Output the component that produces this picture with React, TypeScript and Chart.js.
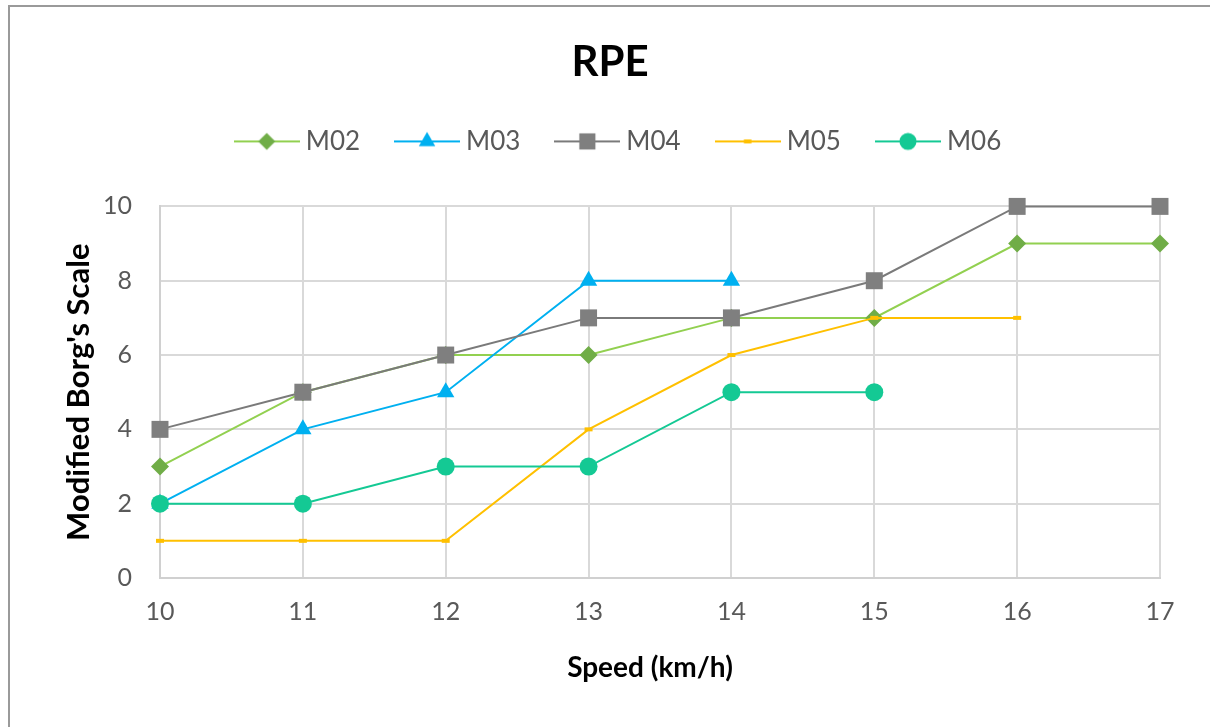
import React, { useEffect, useRef } from "react";
import { Chart, registerables } from "chart.js";

Chart.register(...registerables);

const speeds = ["10", "11", "12", "13", "14", "15", "16", "17"];
const seriesNames = ["M02", "M03", "M04", "M05", "M06"];
const m02 = [3, 5, 6, 6, 7, 7, 9, 9];
const m03 = [2, 4, 5, 8, 8, null, null, null];
const m04 = [4, 5, 6, 7, 7, 8, 10, 10];
const m05 = [1, 1, 1, 4, 6, 7, 7, null];
const m06 = [2, 2, 3, 3, 5, 5, null, null];
const yTicks = [0, 2, 4, 6, 8, 10];

const lineColors = ["#92D050", "#00B0F0", "#7A7A7A", "#FFC000", "#14C994"];
const markerColors = ["#70AD47", "#00B0F0", "#7F7F7F", "#FFC000", "#14C994"];
const markerStyles = ["rectRot", "triangle", "rect", "line", "circle"];
const markerRadii = [9, 10, 12, 4, 9];

function drawMarker(ctx: CanvasRenderingContext2D, style: string, x: number, y: number, r: number, color: string) {
  ctx.fillStyle = color;
  ctx.strokeStyle = color;
  ctx.beginPath();
  if (style === "rectRot") {
    ctx.moveTo(x - r, y);
    ctx.lineTo(x, y - r);
    ctx.lineTo(x + r, y);
    ctx.lineTo(x, y + r);
    ctx.closePath();
    ctx.fill();
  } else if (style === "triangle") {
    const s = Math.sin(Math.PI / 3) * r;
    ctx.moveTo(x, y - r);
    ctx.lineTo(x + s, y + r / 2);
    ctx.lineTo(x - s, y + r / 2);
    ctx.closePath();
    ctx.fill();
  } else if (style === "rect") {
    const h = r * Math.SQRT1_2;
    ctx.rect(x - h, y - h, 2 * h, 2 * h);
    ctx.fill();
  } else if (style === "line") {
    ctx.rect(x - r, y - 2, 2 * r, 4);
    ctx.fill();
  } else {
    ctx.arc(x, y, r, 0, Math.PI * 2);
    ctx.fill();
  }
}

function legendImage(i: number): HTMLCanvasElement {
  const c = document.createElement("canvas");
  c.width = 66;
  c.height = 24;
  const ctx = c.getContext("2d")!;
  ctx.strokeStyle = lineColors[i];
  ctx.lineWidth = 2;
  ctx.beginPath();
  ctx.moveTo(0, 12);
  ctx.lineTo(66, 12);
  ctx.stroke();
  drawMarker(ctx, markerStyles[i], 33, 12, markerRadii[i] * 0.95, markerColors[i]);
  return c;
}

const legendSpacer = {
  id: "legendSpacer",
  beforeLayout(chart: any) {
    const legend = chart.legend;
    if (legend && !legend.__patched) {
      const fit = legend.fit;
      legend.fit = function () {
        fit.call(this);
        this.height += 42;
      };
      const draw = legend.draw;
      legend.draw = function () {
        const ctx = this.ctx;
        ctx.save();
        ctx.translate(11, 0);
        draw.call(this);
        ctx.restore();
      };
      legend.__patched = true;
    }
  },
};

function shiftXTitle(scale: any) {
  if (scale.__titlePatched) return;
  const drawTitle = scale.drawTitle;
  scale.drawTitle = function () {
    const ctx = this.ctx;
    ctx.save();
    ctx.translate(-10, 0);
    drawTitle.call(this);
    ctx.restore();
  };
  scale.__titlePatched = true;
}

export default function App() {
  const ref = useRef<HTMLCanvasElement>(null);
  useEffect(() => {
    const values = [m02, m03, m04, m05, m06];
    const chart = new Chart(ref.current!, {
      type: "line",
      data: {
        labels: speeds,
        datasets: seriesNames.map((name, i) => ({
          label: name,
          data: values[i],
          borderColor: lineColors[i],
          backgroundColor: markerColors[i],
          borderWidth: 2,
          pointStyle: markerStyles[i] as any,
          pointRadius: markerRadii[i],
          pointBackgroundColor: markerColors[i],
          pointBorderColor: markerColors[i],
          pointBorderWidth: i === 3 ? 4 : 0,
          pointHoverRadius: markerRadii[i],
          spanGaps: false,
          tension: 0,
          clip: false as any,
          order: 5 - i,
        })),
      },
      plugins: [legendSpacer],
      options: {
        animation: false,
        responsive: false,
        devicePixelRatio: 1,
        layout: { padding: { left: 60, right: 50, top: 0, bottom: 0 } },
        plugins: {
          tooltip: { enabled: false },
          title: {
            display: true,
            text: "RPE",
            color: "#000000",
            font: { family: "Lato", size: 42, weight: "bold" },
            padding: { top: 37, bottom: 0 },
          },
          legend: {
            display: true,
            position: "top",
            labels: {
              usePointStyle: true,
              pointStyleWidth: 52,
              padding: 41,
              color: "#595959",
              font: { family: "Lato", size: 26 },
              generateLabels: () =>
                seriesNames.map((name, i) => ({
                  text: name,
                  pointStyle: legendImage(i) as any,
                  fillStyle: markerColors[i],
                  strokeStyle: markerColors[i],
                  lineWidth: 0,
                  hidden: false,
                  datasetIndex: i,
                  fontColor: "#595959",
                })),
            },
          },
        },
        scales: {
          x: {
            type: "category",
            offset: false,
            grid: { color: "#D9D9D9", lineWidth: 2, drawTicks: false },
            border: { color: "#D0D0D0", width: 2 },
            ticks: { color: "#595959", font: { family: "Lato", size: 25 }, padding: 19, maxRotation: 0, autoSkip: false },
            title: {
              display: true,
              text: "Speed (km/h)",
              color: "#000000",
              font: { family: "Lato", size: 28, weight: "bold" },
              padding: { top: 0, bottom: 42 },
            },
            afterFit: (scale: any) => {
              scale.height = 149;
              shiftXTitle(scale);
            },
          },
          y: {
            min: 0,
            max: 10,
            afterBuildTicks: (scale: any) => {
              scale.ticks = yTicks.map((v) => ({ value: v }));
            },
            grid: { color: "#D9D9D9", lineWidth: 2, drawTicks: false },
            border: { color: "#D0D0D0", width: 2 },
            ticks: { color: "#595959", font: { family: "Lato", size: 25 }, padding: 28 },
            title: {
              display: true,
              text: "Modified Borg's Scale",
              color: "#000000",
              font: { family: "Lato", size: 31, weight: "bold" },
              padding: { top: 0, bottom: 0 },
            },
            afterFit: (scale: any) => {
              scale.width = 100;
            },
          },
        },
      },
    } as any);
    return () => chart.destroy();
  }, []);

  return (
    <>
      <div
        style={{
          position: "fixed",
          left: 8,
          top: 5,
          width: 1210,
          height: 730,
          borderTop: "2px solid #9A9A9A",
          borderLeft: "2px solid #9A9A9A",
          boxSizing: "border-box",
        }}
      />
      <canvas
        ref={ref}
        width={1210}
        height={727}
        style={{ position: "fixed", left: 0, top: 0, width: 1210, height: 727 }}
      />
    </>
  );
}
